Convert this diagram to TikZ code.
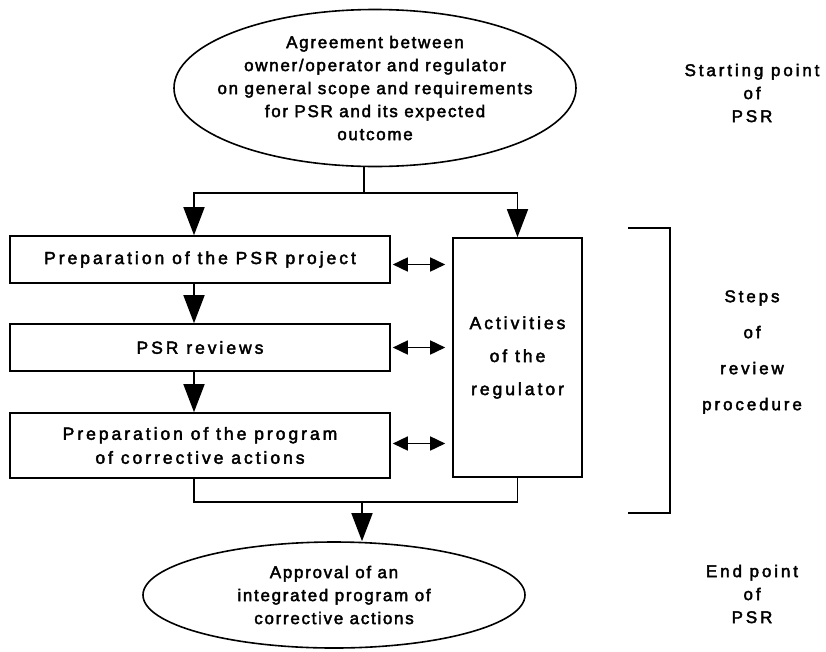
\documentclass[tikz,border=0pt]{standalone}
\usepackage{fontspec}
\setmainfont{Liberation Sans}
\newfontfamily\ovalfont{Liberation Sans}[LetterSpace=10,FakeBold=2.5]
\newfontfamily\boxfont{Liberation Sans}[LetterSpace=17,FakeBold=2.5]
\usetikzlibrary{shapes.geometric,arrows.meta}
\begin{document}
\begin{tikzpicture}[x=1pt, y=-1pt, line width=1.6pt,
      oval/.style = {shape=ellipse, draw, inner sep=0pt, align=center, font=\ovalfont\fontsize{17}{23}\selectfont},
      ovaltext/.style = {align=center, font=\ovalfont\fontsize{17}{23}\selectfont},
      stepbox/.style = {shape=rectangle, draw, inner sep=0pt, align=center, font=\boxfont\fontsize{17.5}{24}\selectfont},
      sidetext/.style = {align=center, font=\boxfont\fontsize{17}{23}\selectfont},
      bigarrow/.style = {-{Triangle[length=28pt,width=21pt]}},
      duoarrow/.style = {{Triangle[length=15pt,width=14pt]}-{Triangle[length=15pt,width=14pt]}, shorten <=2pt, shorten >=7pt}]
    \useasboundingbox (0,0) rectangle (826,651);
    % start and end of the review
    \node[oval, minimum width=402pt, minimum height=157pt] (agree) at (375,88) {};
    \node[ovaltext] (agreetext) at (agree.center) {Agreement between\\owner/operator and regulator\\on general scope and requirements\\for PSR and its expected\\outcome};
    \node[oval, minimum width=382pt, minimum height=106pt] (approve) at (334,595) {Approval of an\\integrated program of\\corrective actions};
    % steps
    \node[stepbox, minimum width=380pt, minimum height=47pt] (prep) at (200,259.5) {Preparation of the PSR project};
    \node[stepbox, minimum width=380pt, minimum height=47pt] (rev) at (200,347.5) {PSR reviews};
    \node[stepbox, minimum width=380pt, minimum height=65pt] (corr) at (200,445.5) {Preparation of the program\\of corrective actions};
    \node[stepbox, minimum width=129pt, minimum height=239pt, font=\boxfont\fontsize{17.5}{33}\selectfont] (reg) at (517.5,357.5) {Activities\\of the\\regulator};
    % connectors
    \coordinate (split) at (364,193);
    \coordinate (join) at (362,502);
    \draw (split |- agree.south) -- (split);
    \draw[bigarrow] (split) -| ([xshift=-6pt]prep.north);
    \draw[bigarrow] (split) -| (reg.north);
    \draw[bigarrow] ([xshift=-6pt]prep.south) -- ([xshift=-6pt]rev.north);
    \draw[bigarrow] ([xshift=-6pt]rev.south) -- ([xshift=-6pt]corr.north);
    \draw ([xshift=-6pt]corr.south) |- (join) -| (reg.south);
    \draw[bigarrow] (join) -- (join |- approve.north);
    \draw[duoarrow] ([yshift=-5pt]prep.east) -- ([yshift=-5pt]prep.east -| reg.west);
    \draw[duoarrow] (rev.east) -- (rev.east -| reg.west);
    \draw[duoarrow] ([yshift=2pt]corr.east) -- ([yshift=2pt]corr.east -| reg.west);
    % bracket and side labels
    \draw (628,228) -- (670,228) -- (670,513) -- (628,513);
    \node[sidetext] (startlbl) at (752,93) {Starting point\\of\\PSR};
    \node[sidetext, font=\boxfont\fontsize{17}{36}\selectfont] (stepslbl) at (752,352) {Steps\\of\\review\\procedure};
    \node[sidetext] (endlbl) at (752,594) {End point\\of\\PSR};
\end{tikzpicture}
\end{document}
